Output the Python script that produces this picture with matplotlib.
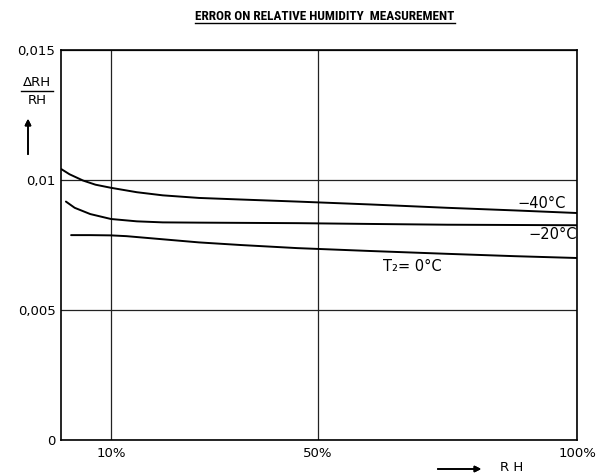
import matplotlib
matplotlib.use("Agg")
import matplotlib.pyplot as plt
from matplotlib import font_manager
from matplotlib.font_manager import FontProperties
from matplotlib.lines import Line2D

# Relative humidity (%) and relative error for each sensor temperature
rh_m40 = [0.4, 2, 4.6, 7, 10, 15, 20, 27, 35, 46, 60, 75, 88, 100]
err_m40 = [0.01042, 0.01022, 0.00998, 0.00982, 0.00970, 0.00953, 0.00941,
           0.00931, 0.00925, 0.00917, 0.00906, 0.00893, 0.00883, 0.00873]

rh_m20 = [1.3, 3, 6, 10, 15, 20, 27, 46, 60, 75, 100]
err_m20 = [0.00917, 0.00893, 0.00869, 0.00850, 0.00841, 0.00837, 0.00836,
           0.00834, 0.00831, 0.00828, 0.00826]

rh_0 = [2.3, 6, 10, 13, 20, 27, 35, 46, 60, 75, 88, 100]
err_0 = [0.00788, 0.00788, 0.00787, 0.00784, 0.00772, 0.00760, 0.00750,
         0.00738, 0.00727, 0.00716, 0.00707, 0.00700]

curve_labels = ["\u221240\u00b0C", "\u221220\u00b0C", "T\u2082= 0\u00b0C"]
label_pos = [(93.1, 0.00908), (95.3, 0.00792), (68.1, 0.00669)]

x_ticks = [10, 50, 100]
x_ticklabels = ["10%", "50%", "100%"]
y_ticks = [0, 0.005, 0.01, 0.015]
y_ticklabels = ["0", "0,005", "0,01", "0,015"]

title = "ERROR ON RELATIVE HUMIDITY  MEASUREMENT"

W, H = 598, 473
fig = plt.figure(figsize=(W / 100, H / 100), dpi=100)
fig.patch.set_facecolor("white")


def fx(px):
    return px / W


def fy(py):
    return 1 - py / H


ax = fig.add_axes([fx(61), fy(440), (577 - 61) / W, (440 - 50) / H])
ax.set_xlim(0.35, 100)
ax.set_ylim(0, 0.015)

for rh, err in ((rh_m40, err_m40), (rh_m20, err_m20), (rh_0, err_0)):
    ax.plot(rh, err, color="black", lw=1.4, solid_capstyle="round")

for text, (x, y) in zip(curve_labels, label_pos):
    ax.text(x, y, text, ha="center", va="center", fontsize=10.5,
            family="DejaVu Sans")

ax.set_xticks(x_ticks)
ax.set_xticklabels(x_ticklabels)
ax.set_yticks(y_ticks)
ax.set_yticklabels(y_ticklabels)
ax.tick_params(length=0, labelsize=9.5, pad=4)
ax.tick_params(axis="x", pad=5)
ax.grid(True, color="#222222", lw=0.9)
ax.set_axisbelow(True)
for s in ax.spines.values():
    s.set_linewidth(1.2)
    s.set_color("black")


def narrow_bold_font():
    """Pick a bold condensed face if one is installed."""
    best = None
    for f in font_manager.fontManager.ttflist:
        narrow = ("Narrow" in f.name or "Condensed" in f.name
                  or f.stretch in ("condensed", "semi-condensed",
                                   "extra-condensed"))
        w = f.weight if isinstance(f.weight, int) else 400
        if narrow and w >= 600 and f.style == "normal":
            if best is None or "Condensed" in f.fname or "Narrow" in f.fname:
                best = f
    return best


# Title, underlined
nb = narrow_bold_font()
if nb is not None:
    tprops = FontProperties(fname=nb.fname, size=9.5)
else:
    tprops = FontProperties(family="DejaVu Sans", weight="bold", size=7.2)
ttl = fig.text(fx(325), fy(16), title, ha="center", va="center",
               fontproperties=tprops)
fig.canvas.draw()
bb = ttl.get_window_extent()
uy = (bb.y0 - 1) / H
fig.add_artist(Line2D([bb.x0 / W, bb.x1 / W], [uy, uy],
                      transform=fig.transFigure, color="black", lw=1.0))

# Y quantity as a fraction with an upward arrow
fig.text(fx(37), fy(82), "\u0394RH", ha="center", va="center", fontsize=9.5)
fig.add_artist(Line2D([fx(21), fx(53)], [fy(91), fy(91)],
                      transform=fig.transFigure, color="black", lw=1.0))
fig.text(fx(37), fy(100), "RH", ha="center", va="center", fontsize=9.5)
fig.add_artist(plt.annotate(
    "", xy=(fx(28), fy(116)), xytext=(fx(28), fy(157)),
    xycoords="figure fraction", textcoords="figure fraction",
    arrowprops=dict(arrowstyle="-|>", color="black", lw=1.2,
                    mutation_scale=9)))

# X quantity with a rightward arrow
fig.add_artist(plt.annotate(
    "", xy=(fx(484), fy(469)), xytext=(fx(435), fy(469)),
    xycoords="figure fraction", textcoords="figure fraction",
    arrowprops=dict(arrowstyle="-|>", color="black", lw=1.2,
                    mutation_scale=9)))
fig.text(fx(512), fy(467), "R H", ha="center", va="center", fontsize=9.5)

fig.savefig("out.png", dpi=100, facecolor="white")
